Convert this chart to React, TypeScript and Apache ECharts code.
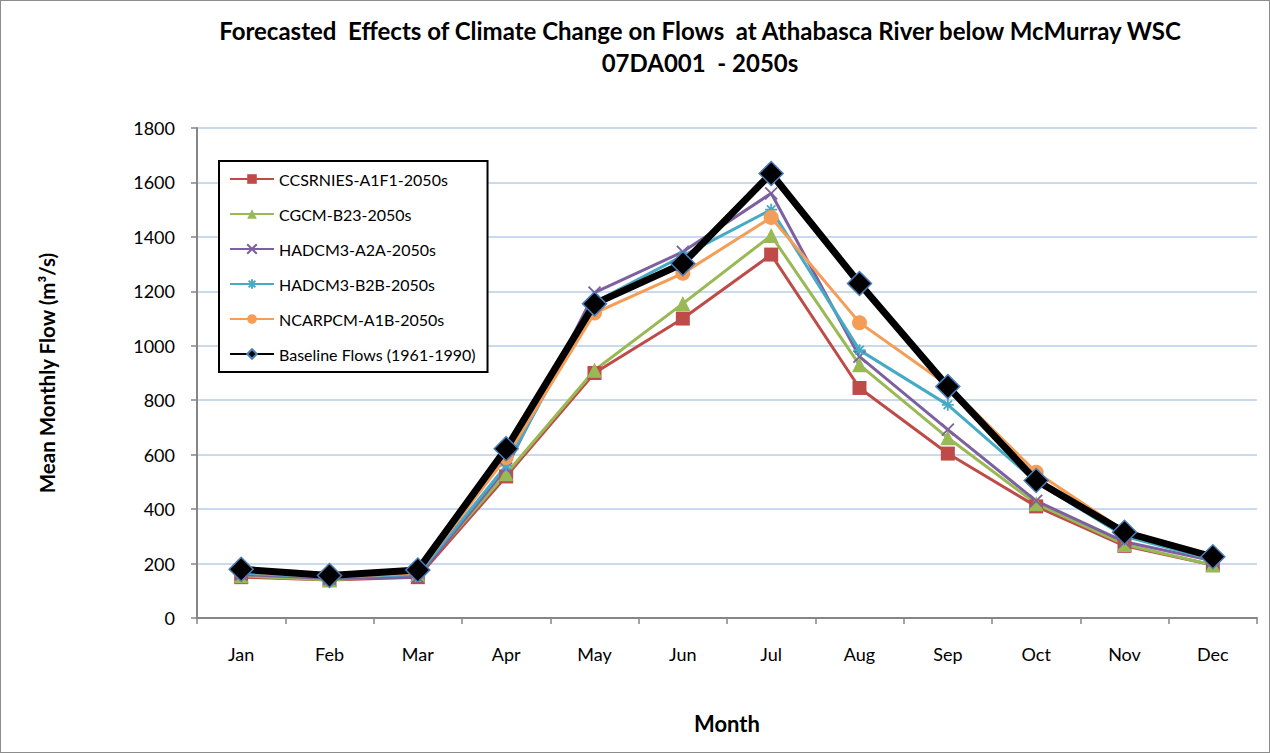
import React, { useEffect, useRef } from "react";
import * as echarts from "echarts";

const months = ["Jan", "Feb", "Mar", "Apr", "May", "Jun", "Jul", "Aug", "Sep", "Oct", "Nov", "Dec"];
const ccsrnies = [150, 140, 150, 520, 900, 1100, 1335, 845, 604, 410, 265, 195];
const cgcm = [155, 140, 160, 530, 910, 1155, 1405, 930, 662, 420, 270, 195];
const hadA2A = [160, 145, 150, 550, 1195, 1345, 1560, 960, 692, 430, 280, 210];
const hadB2B = [165, 150, 160, 560, 1160, 1330, 1500, 984, 783, 500, 300, 215];
const ncarpcm = [170, 150, 165, 590, 1120, 1266, 1471, 1085, 855, 535, 320, 215];
const baseline = [179, 156, 176, 622, 1154, 1302, 1633, 1229, 850, 505, 315, 225];
const yTicks = [0, 200, 400, 600, 800, 1000, 1200, 1400, 1600, 1800];

const FONT = "Lato, 'Open Sans', sans-serif";

export default function App() {
  const ref = useRef<HTMLDivElement>(null);
  useEffect(() => {
    const chart = echarts.init(ref.current!, null, { renderer: "svg" });
    const mk = (name: string, data: number[], color: string, symbol: string, size: number, stroke: boolean) => ({
      name,
      type: "line",
      data,
      symbol,
      symbolSize: size,
      showAllSymbol: true,
      lineStyle: { color, width: 3 },
      itemStyle: { color, borderColor: color, borderWidth: stroke ? 1.8 : 0 },
      emphasis: { disabled: true },
      z: 2,
    });
    chart.setOption({
      animation: false,
      backgroundColor: "#ffffff",
      title: {
        text: "Forecasted  Effects of Climate Change on Flows  at Athabasca River below McMurray WSC\n07DA001  - 2050s",
        left: 694,
        textAlign: "center",
        top: 8,
        textStyle: { fontFamily: FONT, fontWeight: "bold", fontSize: 24, lineHeight: 32, color: "#000" },
      },
      legend: {
        orient: "vertical",
        left: 218,
        top: 160,
        itemWidth: 44,
        itemHeight: 12,
        itemGap: 19,
        padding: [10, 12, 10, 10],
        borderColor: "#000",
        borderWidth: 2,
        backgroundColor: "#fff",
        textStyle: { fontFamily: FONT, fontSize: 16, color: "#000" },
        data: [
          "CCSRNIES-A1F1-2050s",
          "CGCM-B23-2050s",
          "HADCM3-A2A-2050s",
          "HADCM3-B2B-2050s",
          "NCARPCM-A1B-2050s",
          "Baseline Flows (1961-1990)",
        ],
      },
      grid: { left: 196, right: 12, top: 127, bottom: 134 },
      xAxis: {
        type: "category",
        data: months,
        boundaryGap: true,
        name: "Month",
        nameLocation: "middle",
        nameGap: 94,
        nameTextStyle: { fontFamily: FONT, fontWeight: "bold", fontSize: 22, color: "#000" },
        axisLine: { lineStyle: { color: "#868686", width: 2 } },
        axisTick: { show: true, length: 6, lineStyle: { color: "#868686", width: 1.5 }, alignWithLabel: false },
        axisLabel: { fontFamily: FONT, fontSize: 18, color: "#000", margin: 27 },
      },
      yAxis: {
        type: "value",
        min: 0,
        max: 1800,
        interval: 200,
        name: "Mean Monthly Flow (m³/s)",
        nameLocation: "middle",
        nameGap: 140,
        nameRotate: 90,
        nameTextStyle: { fontFamily: FONT, fontWeight: "bold", fontSize: 20.5, color: "#000" },
        axisLine: { show: true, lineStyle: { color: "#868686", width: 2 } },
        axisTick: { show: true, length: 6, lineStyle: { color: "#868686", width: 1.5 } },
        axisLabel: {
          fontFamily: FONT,
          fontSize: 18,
          color: "#000",
          margin: 22,
          formatter: (v: number) => (yTicks.includes(v) ? String(v) : ""),
        },
        splitLine: { lineStyle: { color: "#b9cde5", width: 1.5 } },
      },
      series: [
        mk("CCSRNIES-A1F1-2050s", ccsrnies, "#be4b48", "rect", 14, false),
        mk("CGCM-B23-2050s", cgcm, "#98b954", "triangle", 15, false),
        mk("HADCM3-A2A-2050s", hadA2A, "#7d60a0", "path://M0,0L10,10M10,0L0,10", 12, true),
        mk("HADCM3-B2B-2050s", hadB2B, "#46aac5", "path://M0,5L10,5M5,0L5,10M1.5,1.5L8.5,8.5M8.5,1.5L1.5,8.5", 12, true),
        mk("NCARPCM-A1B-2050s", ncarpcm, "#f59d56", "circle", 15, false),
        {
          name: "Baseline Flows (1961-1990)",
          type: "line",
          data: baseline,
          symbol: "diamond",
          symbolSize: 24,
          lineStyle: { color: "#000", width: 7 },
          itemStyle: { color: "#000", borderColor: "#4a7ebb", borderWidth: 1.5 },
          emphasis: { disabled: true },
          z: 3,
        },
      ],
    });
    return () => chart.dispose();
  }, []);
  return (
    <div
      style={{
        position: "fixed",
        left: 0,
        top: 0,
        width: 1270,
        height: 753,
        background: "#fff",
      }}
    >
      <div
        ref={ref}
        style={{ position: "absolute", left: 0, top: 0, width: 1268, height: 751, border: "1px solid #8c8c8c" }}
      />
    </div>
  );
}
